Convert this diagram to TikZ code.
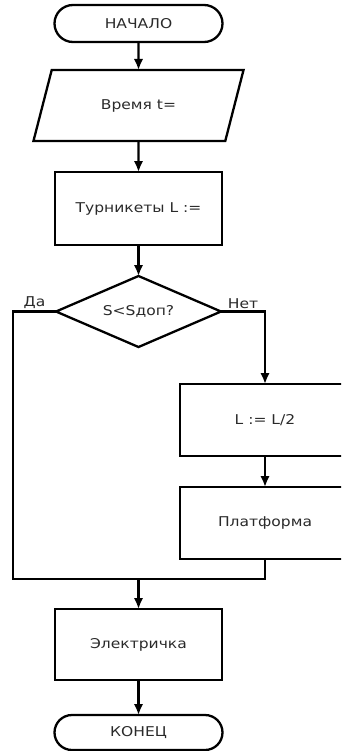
\documentclass[tikz,border=0pt]{standalone}
\usepackage{fontspec}
\setmainfont{DejaVu Sans}[FakeStretch=1.15]
\usetikzlibrary{arrows.meta,positioning,shapes.geometric,shapes.misc}
\definecolor{fctext}{HTML}{2A2A2A}

\begin{document}
\begin{tikzpicture}[
      font=\fontsize{13.5}{16}\selectfont,
      base/.style={draw,line width=2.3pt,text=fctext,inner sep=0pt,outer sep=0pt},
      term/.style={base,rounded rectangle,minimum width=168pt,minimum height=37pt},
      io/.style={base,trapezium,trapezium left angle=58,trapezium right angle=122,
        trapezium stretches=true,minimum width=212pt,minimum height=71pt},
      proc/.style={base,rectangle,minimum width=167pt,minimum height=73pt},
      cond/.style={base,diamond,aspect=2.3,minimum width=165pt,minimum height=71pt},
      lbl/.style={text=fctext,inner sep=2pt},
      link/.style={line width=2.3pt,line join=miter},
      arr/.style={link,-{Latex[length=11pt,width=9.5pt]}}]
    \useasboundingbox (0,0) rectangle (341pt,-751pt);
    \clip (0,0) rectangle (341pt,-751pt);
    \node[term] (start) at (138.5pt,-23.5pt) {НАЧАЛО};
    \node[io,below=28pt of start] (time) {Время t=};
    \node[proc,below=31pt of time] (turn) {Турникеты L :=};
    \node[cond,below=31pt of turn] (cmp) {S<Sдоп?};
    \node[proc,minimum width=170pt,minimum height=72pt] (half) at (265pt,-420pt) {L := L/2};
    \node[proc,minimum width=170pt,minimum height=72pt,below=31pt of half] (plat) {Платформа};
    \coordinate (merge) at (138.5pt,-579pt);
    \coordinate (loopl) at (13pt,-579pt);
    \node[proc,minimum height=71pt,below=30pt of merge] (train) {Электричка};
    \node[term,minimum height=35pt,below=35pt of train] (finish) {КОНЕЦ};
    \draw[arr] (start) -- (time);
    \draw[arr] (time) -- (turn);
    \draw[arr] (turn) -- (cmp);
    \draw[arr] (cmp.east) -| node[lbl,above,pos=0.25] {Нет} (half.north);
    \draw[arr] (half) -- (plat);
    \draw[link] (cmp.west) -| node[lbl,above,pos=0.25] {Да} (loopl) -| (plat.south);
    \draw[arr] (merge) -- (train);
    \draw[arr] (train) -- (finish);
  \end{tikzpicture}
\end{document}
